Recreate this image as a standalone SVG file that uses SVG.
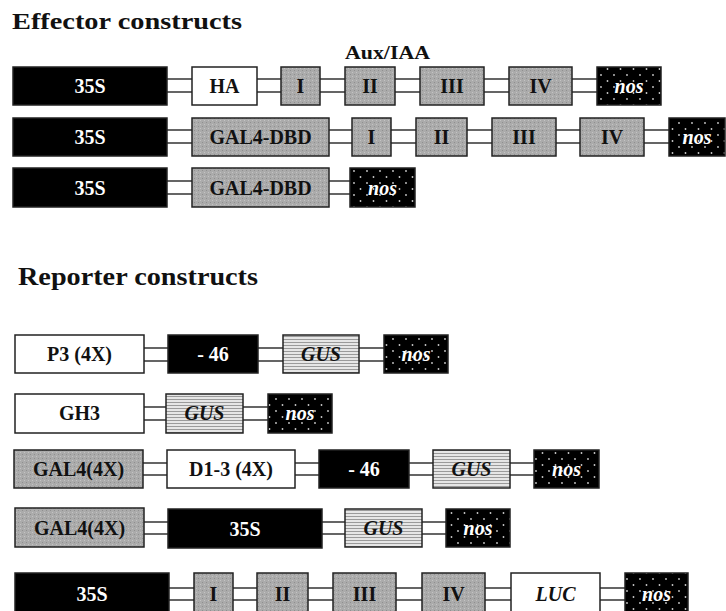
<svg xmlns="http://www.w3.org/2000/svg" width="726" height="611" viewBox="0 0 726 611">
<defs>
<pattern id="dots" width="13" height="12" patternUnits="userSpaceOnUse">
<rect width="13" height="12" fill="#000"/>
<circle cx="3" cy="3" r="0.9" fill="#ccc"/>
<circle cx="9.5" cy="9" r="0.9" fill="#ccc"/>
</pattern>
<pattern id="stripes" width="6" height="3" patternUnits="userSpaceOnUse">
<rect width="6" height="3" fill="#e6e6e6"/>
<rect y="0" width="6" height="1" fill="#9a9a9a"/>
</pattern>
<pattern id="stipple" width="4" height="4" patternUnits="userSpaceOnUse">
<rect width="4" height="4" fill="#ababab"/>
<rect x="0" y="0" width="1" height="1" fill="#c4c4c4"/>
<rect x="2" y="2" width="1" height="1" fill="#8f8f8f"/>
</pattern>
</defs>
<style>
.bx{stroke:#222;stroke-width:1.5}
.blk{fill:#000}
.wht{fill:#fff}
.gry{fill:url(#stipple)}
.gus{fill:url(#stripes)}
.nos{fill:url(#dots)}
.t{font-family:"Liberation Serif","Times New Roman",serif;font-weight:bold;font-size:20px;text-anchor:middle;fill:#111}
.tw{fill:#fff}
.it{font-style:italic}
.title{font-family:"Liberation Serif","Times New Roman",serif;font-weight:bold;fill:#111}
#connectors path{stroke:#333;stroke-width:1.5;fill:none}
</style>
<rect width="726" height="611" fill="#fff"/>

<text class="title" x="12" y="29" font-size="24" textLength="230" lengthAdjust="spacingAndGlyphs">Effector constructs</text>
<text class="title" x="345" y="59" font-size="19" textLength="85" lengthAdjust="spacingAndGlyphs">Aux/IAA</text>
<text class="title" x="18" y="285" font-size="25" textLength="240" lengthAdjust="spacingAndGlyphs">Reporter constructs</text>

<g id="connectors">
<path d="M167 79H192M167 92H192M257 79H281M257 92H281M320 79H345M320 92H345M395 79H420M395 92H420M484 79H509M484 92H509M572 79H597M572 92H597"/>
<path d="M167 130H192M167 143H192M329 130H352M329 143H352M391 130H416M391 143H416M467 130H492M467 143H492M556 130H580M556 143H580M644 130H669M644 143H669"/>
<path d="M167 181H192M167 194H192M329 181H350M329 194H350"/>
<path d="M144 348H168M144 361H168M258 348H283M258 361H283M359 348H384M359 361H384"/>
<path d="M144 407H166M144 420H166M243 407H268M243 420H268"/>
<path d="M143 463H167M143 475H167M295 463H319M295 475H319M409 463H433M409 475H433M510 463H534M510 475H534"/>
<path d="M144 522H168M144 534H168M322 522H345M322 534H345M422 522H446M422 534H446"/>
<path d="M169 588H194M169 600H194M233 588H257M233 600H257M308 588H333M308 600H333M396 588H422M396 600H422M485 588H511M485 600H511M600 588H625M600 600H625"/>
</g>

<!-- Effector row 1 -->
<g id="e1-35s"><rect class="bx blk" x="13" y="67" width="154" height="38"/><text class="t tw" x="90" y="93">35S</text></g>
<g id="e1-ha"><rect class="bx wht" x="192" y="67" width="65" height="38"/><text class="t" x="224.5" y="93">HA</text></g>
<g id="e1-i"><rect class="bx gry" x="281" y="67" width="39" height="38"/><text class="t" x="300.5" y="93">I</text></g>
<g id="e1-ii"><rect class="bx gry" x="345" y="67" width="50" height="38"/><text class="t" x="370" y="93">II</text></g>
<g id="e1-iii"><rect class="bx gry" x="420" y="67" width="64" height="38"/><text class="t" x="452" y="93">III</text></g>
<g id="e1-iv"><rect class="bx gry" x="509" y="67" width="63" height="38"/><text class="t" x="540.5" y="93">IV</text></g>
<g id="e1-nos"><rect class="bx nos" x="597" y="67" width="64" height="38"/><text class="t tw it" x="629" y="93">nos</text></g>

<!-- Effector row 2 -->
<g id="e2-35s"><rect class="bx blk" x="13" y="118" width="154" height="38"/><text class="t tw" x="90" y="144">35S</text></g>
<g id="e2-gal4dbd"><rect class="bx gry" x="192" y="118" width="137" height="38"/><text class="t" x="260.5" y="144">GAL4-DBD</text></g>
<g id="e2-i"><rect class="bx gry" x="352" y="118" width="39" height="38"/><text class="t" x="371.5" y="144">I</text></g>
<g id="e2-ii"><rect class="bx gry" x="416" y="118" width="51" height="38"/><text class="t" x="441.5" y="144">II</text></g>
<g id="e2-iii"><rect class="bx gry" x="492" y="118" width="64" height="38"/><text class="t" x="524" y="144">III</text></g>
<g id="e2-iv"><rect class="bx gry" x="580" y="118" width="64" height="38"/><text class="t" x="612" y="144">IV</text></g>
<g id="e2-nos"><rect class="bx nos" x="669" y="118" width="56" height="38"/><text class="t tw it" x="697" y="144">nos</text></g>

<!-- Effector row 3 -->
<g id="e3-35s"><rect class="bx blk" x="13" y="168" width="154" height="39"/><text class="t tw" x="90" y="195">35S</text></g>
<g id="e3-gal4dbd"><rect class="bx gry" x="192" y="168" width="137" height="39"/><text class="t" x="260.5" y="195">GAL4-DBD</text></g>
<g id="e3-nos"><rect class="bx nos" x="350" y="168" width="65" height="39"/><text class="t tw it" x="382.5" y="195">nos</text></g>

<!-- Reporter row 1 -->
<g id="r1-p3"><rect class="bx wht" x="15" y="335" width="129" height="38"/><text class="t" x="79.5" y="361">P3 (4X)</text></g>
<g id="r1-46"><rect class="bx blk" x="168" y="335" width="90" height="38"/><text class="t tw" x="213" y="361">- 46</text></g>
<g id="r1-gus"><rect class="bx gus" x="283" y="335" width="76" height="38"/><text class="t it" x="321" y="361">GUS</text></g>
<g id="r1-nos"><rect class="bx nos" x="384" y="335" width="64" height="38"/><text class="t tw it" x="416" y="361">nos</text></g>

<!-- Reporter row 2 -->
<g id="r2-gh3"><rect class="bx wht" x="15" y="394" width="129" height="39"/><text class="t" x="79.5" y="420">GH3</text></g>
<g id="r2-gus"><rect class="bx gus" x="166" y="394" width="77" height="39"/><text class="t it" x="204.5" y="420">GUS</text></g>
<g id="r2-nos"><rect class="bx nos" x="268" y="394" width="64" height="39"/><text class="t tw it" x="300" y="420">nos</text></g>

<!-- Reporter row 3 -->
<g id="r3-gal4"><rect class="bx gry" x="14" y="450" width="129" height="38"/><text class="t" x="78.5" y="476">GAL4(4X)</text></g>
<g id="r3-d13"><rect class="bx wht" x="167" y="450" width="128" height="38"/><text class="t" x="231" y="476">D1-3 (4X)</text></g>
<g id="r3-46"><rect class="bx blk" x="319" y="450" width="90" height="38"/><text class="t tw" x="364" y="476">- 46</text></g>
<g id="r3-gus"><rect class="bx gus" x="433" y="450" width="77" height="38"/><text class="t it" x="471.5" y="476">GUS</text></g>
<g id="r3-nos"><rect class="bx nos" x="534" y="450" width="65" height="38"/><text class="t tw it" x="566.5" y="476">nos</text></g>

<!-- Reporter row 4 -->
<g id="r4-gal4"><rect class="bx gry" x="15" y="508" width="129" height="39"/><text class="t" x="79.5" y="535">GAL4(4X)</text></g>
<g id="r4-35s"><rect class="bx blk" x="168" y="509" width="154" height="39"/><text class="t tw" x="245" y="536">35S</text></g>
<g id="r4-gus"><rect class="bx gus" x="345" y="509" width="77" height="38"/><text class="t it" x="383.5" y="535">GUS</text></g>
<g id="r4-nos"><rect class="bx nos" x="446" y="509" width="64" height="38"/><text class="t tw it" x="478" y="535">nos</text></g>

<!-- Reporter row 5 -->
<g id="r5-35s"><rect class="bx blk" x="15" y="573" width="154" height="40"/><text class="t tw" x="92" y="601">35S</text></g>
<g id="r5-i"><rect class="bx gry" x="194" y="573" width="39" height="40"/><text class="t" x="213.5" y="601">I</text></g>
<g id="r5-ii"><rect class="bx gry" x="257" y="573" width="51" height="40"/><text class="t" x="282.5" y="601">II</text></g>
<g id="r5-iii"><rect class="bx gry" x="333" y="573" width="63" height="40"/><text class="t" x="364.5" y="601">III</text></g>
<g id="r5-iv"><rect class="bx gry" x="422" y="573" width="63" height="40"/><text class="t" x="453.5" y="601">IV</text></g>
<g id="r5-luc"><rect class="bx wht" x="511" y="573" width="89" height="40"/><text class="t it" x="555.5" y="601">LUC</text></g>
<g id="r5-nos"><rect class="bx nos" x="625" y="573" width="63" height="40"/><text class="t tw it" x="656.5" y="601">nos</text></g>
</svg>
